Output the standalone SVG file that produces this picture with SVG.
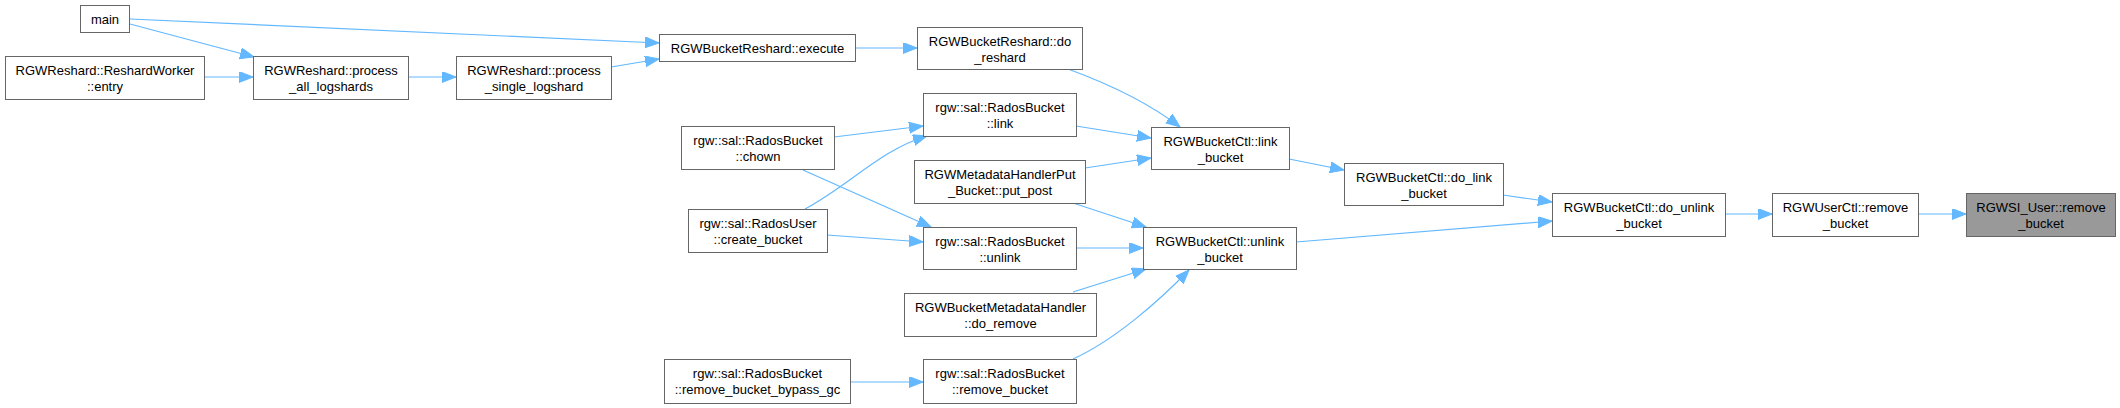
<svg xmlns="http://www.w3.org/2000/svg" width="2120" height="408" viewBox="0 0 2120 408">
<style>
.n rect{fill:#ffffff;stroke:#666666;stroke-width:1}
.n.hl rect{fill:#999999;stroke:#666666}
.n text{font-family:"Liberation Sans",Arial,sans-serif;font-size:13px;fill:#000000;text-anchor:middle}
.e path{fill:none;stroke:#63b8ff;stroke-width:1.2;marker-end:url(#ah)}
</style>
<defs>
<marker id="ah" markerWidth="16" markerHeight="12" refX="14" refY="5.5" orient="auto" markerUnits="userSpaceOnUse">
<path d="M0,0 L14,5.5 L0,11 z" fill="#63b8ff" stroke="#63b8ff" stroke-width="1"/>
</marker>
</defs>
<rect width="2120" height="408" fill="#ffffff"/>
<g id="edges" class="e">
<path d="M130,19 L659,43"/>
<path d="M130,24 L254,57"/>
<path d="M204,77 L253,77"/>
<path d="M408,77 L456,77"/>
<path d="M611,67 L659,59"/>
<path d="M855,48 L917,48"/>
<path d="M1068,69 C1098,80 1145,100 1180,127"/>
<path d="M1076,126 L1151,138"/>
<path d="M1085,168 L1151,158"/>
<path d="M1073,203 L1146,227"/>
<path d="M834,137 L923,126"/>
<path d="M805,209 C850,185 880,150 927,136"/>
<path d="M803,170 L931,227"/>
<path d="M827,235 L923,242"/>
<path d="M1076,248 L1143,248"/>
<path d="M1073,292 L1146,269"/>
<path d="M1073,359 C1115,340 1160,300 1189,270"/>
<path d="M850,382 L923,382"/>
<path d="M1289,159 L1344,170"/>
<path d="M1503,195 L1552,202"/>
<path d="M1296,242 L1552,221"/>
<path d="M1725,214 L1772,214"/>
<path d="M1918,214 L1966,214"/>
</g>
<g id="node_main" class="n"><rect x="80.5" y="5.5" width="49" height="27"/><text x="105" y="23.5">main</text></g>
<g id="node_entry" class="n"><rect x="5.5" y="56.5" width="199" height="43"/><text x="105" y="75">RGWReshard::ReshardWorker</text><text x="105" y="91">::entry</text></g>
<g id="node_process_all" class="n"><rect x="253.5" y="56.5" width="155" height="43"/><text x="331" y="75">RGWReshard::process</text><text x="331" y="91">_all_logshards</text></g>
<g id="node_process_single" class="n"><rect x="456.5" y="56.5" width="155" height="43"/><text x="534" y="75">RGWReshard::process</text><text x="534" y="91">_single_logshard</text></g>
<g id="node_execute" class="n"><rect x="659.5" y="34.5" width="196" height="27"/><text x="757.5" y="52.5">RGWBucketReshard::execute</text></g>
<g id="node_do_reshard" class="n"><rect x="917.5" y="27.5" width="165" height="42"/><text x="1000" y="46">RGWBucketReshard::do</text><text x="1000" y="62">_reshard</text></g>
<g id="node_link" class="n"><rect x="923.5" y="93.5" width="153" height="43"/><text x="1000" y="112">rgw::sal::RadosBucket</text><text x="1000" y="128">::link</text></g>
<g id="node_chown" class="n"><rect x="681.5" y="126.5" width="153" height="43"/><text x="758" y="145">rgw::sal::RadosBucket</text><text x="758" y="161">::chown</text></g>
<g id="node_create_bucket" class="n"><rect x="688.5" y="209.5" width="139" height="43"/><text x="758" y="228">rgw::sal::RadosUser</text><text x="758" y="244">::create_bucket</text></g>
<g id="node_put_post" class="n"><rect x="914.5" y="160.5" width="171" height="43"/><text x="1000" y="179">RGWMetadataHandlerPut</text><text x="1000" y="195">_Bucket::put_post</text></g>
<g id="node_link_bucket" class="n"><rect x="1151.5" y="127.5" width="138" height="42"/><text x="1220.5" y="146">RGWBucketCtl::link</text><text x="1220.5" y="162">_bucket</text></g>
<g id="node_unlink" class="n"><rect x="923.5" y="227.5" width="153" height="42"/><text x="1000" y="246">rgw::sal::RadosBucket</text><text x="1000" y="262">::unlink</text></g>
<g id="node_unlink_bucket" class="n"><rect x="1143.5" y="227.5" width="153" height="42"/><text x="1220" y="246">RGWBucketCtl::unlink</text><text x="1220" y="262">_bucket</text></g>
<g id="node_do_remove" class="n"><rect x="904.5" y="293.5" width="192" height="43"/><text x="1000.5" y="312">RGWBucketMetadataHandler</text><text x="1000.5" y="328">::do_remove</text></g>
<g id="node_bypass_gc" class="n"><rect x="664.5" y="359.5" width="186" height="44"/><text x="757.5" y="378">rgw::sal::RadosBucket</text><text x="757.5" y="394">::remove_bucket_bypass_gc</text></g>
<g id="node_remove_bucket" class="n"><rect x="923.5" y="359.5" width="153" height="44"/><text x="1000" y="378">rgw::sal::RadosBucket</text><text x="1000" y="394">::remove_bucket</text></g>
<g id="node_do_link" class="n"><rect x="1344.5" y="163.5" width="159" height="42"/><text x="1424" y="182">RGWBucketCtl::do_link</text><text x="1424" y="198">_bucket</text></g>
<g id="node_do_unlink" class="n"><rect x="1552.5" y="193.5" width="173" height="43"/><text x="1639" y="212">RGWBucketCtl::do_unlink</text><text x="1639" y="228">_bucket</text></g>
<g id="node_userctl_remove" class="n"><rect x="1772.5" y="193.5" width="146" height="43"/><text x="1845.5" y="212">RGWUserCtl::remove</text><text x="1845.5" y="228">_bucket</text></g>
<g id="node_rgwsi_user_remove" class="n hl"><rect x="1966.5" y="193.5" width="149" height="43"/><text x="2041" y="212">RGWSI_User::remove</text><text x="2041" y="228">_bucket</text></g>
</svg>
